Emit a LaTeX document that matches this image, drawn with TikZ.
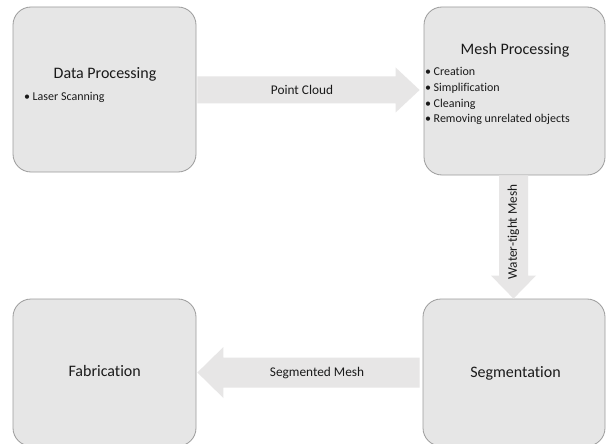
\documentclass[tikz,border=0pt]{standalone}
\usepackage{fontspec}
\setmainfont{Carlito}[Ligatures=NoCommon]
\usetikzlibrary{calc}

\definecolor{boxfill}{HTML}{E6E6E6}
\definecolor{boxline}{HTML}{9C9C9C}
\definecolor{arrowfill}{HTML}{E7E6E6}
\definecolor{ink}{HTML}{1A1A1A}

\tikzset{
  stagebox/.style={rectangle, rounded corners=18pt, draw=boxline, line width=0.8pt,
    fill=boxfill, inner sep=0pt},
  title/.style={inner sep=0pt, text=ink, font=\fontsize{16}{19}\selectfont, anchor=base},
  item/.style={inner sep=0pt, text=ink, font=\fontsize{12}{15}\selectfont, anchor=base west},
  flowlabel/.style={inner sep=0pt, text=ink, font=\fontsize{13.3}{16}\selectfont},
}

% block arrow: #1 tail, #2 tip, #3 shaft half width, #4 head half width, #5 head length
\newcommand\blockarrow[5]{%
  \coordinate (ba-h) at ($(#2)!#5!(#1)$);
  \fill[arrowfill]
    ($(#1)!#3!90:(#2)$) -- ($(ba-h)!#3!-90:(#1)$) -- ($(ba-h)!#4!-90:(#1)$)
    -- (#2)
    -- ($(ba-h)!#4!90:(#1)$) -- ($(ba-h)!#3!90:(#1)$) -- ($(#1)!#3!-90:(#2)$) -- cycle;
}

\newcommand\bulletitem[1]{\makebox[8.5pt][l]{\textbullet}#1}

\begin{document}
\begin{tikzpicture}[x=1pt,y=-1pt]
  \fill[white] (0,0) rectangle (606,444);
  \useasboundingbox (0,0) rectangle (606,444);

  % the four stages
  \node[stagebox, minimum width=183pt, minimum height=165pt] (dp) at (104.5,89.5) {};
  \node[stagebox, minimum width=181pt, minimum height=168pt] (mp) at (514.5,91) {};
  \node[stagebox, minimum width=182pt, minimum height=147pt] (sg) at (514,372.5) {};
  \node[stagebox, minimum width=183pt, minimum height=147pt] (fb) at (104.5,372.5) {};

  % titles
  \node[title] (dp-t) at (105,79) {Data Processing};
  \node[title] (mp-t) at (515,55) {Mesh Processing};
  \node[title] (sg-t) at (515.5,377) {Segmentation};
  \node[title] (fb-t) at (104.7,376.7) {Fabrication};

  % bullet lists
  \node[item] (dp-1) at (24,100.5) {\bulletitem{Laser Scanning}};
  \node[item] (mp-1) at (425,76) {\bulletitem{Creation}};
  \node[item] (mp-2) at (425,91.6) {\bulletitem{Simplification}};
  \node[item] (mp-3) at (425,107.2) {\bulletitem{Cleaning}};
  \node[item] (mp-4) at (425,122.8) {\bulletitem{Removing unrelated objects}};

  % flow arrows between stages
  \coordinate (pc-s) at ($(dp.east)+(1,0.5)$);
  \coordinate (pc-e) at ($(mp.west |- pc-s)+(-4,0)$);
  \blockarrow{pc-s}{pc-e}{13.5pt}{22.5pt}{24pt}

  \coordinate (wt-s) at ($(mp.south)+(-1,0)$);
  \coordinate (wt-e) at (wt-s |- sg.north);
  \blockarrow{wt-s}{wt-e}{14.5pt}{22.5pt}{23pt}

  \coordinate (sm-s) at ($(sg.west)+(-3,0)$);
  \coordinate (sm-e) at ($(fb.east |- sm-s)+(1,0)$);
  \blockarrow{sm-s}{sm-e}{15pt}{25.5pt}{26pt}

  % arrow labels
  \node[flowlabel, anchor=base] (pc-l) at (302,94.3) {Point Cloud};
  \node[flowlabel, rotate=90] (wt-l) at (513.5,232) {Water-tight Mesh};
  \node[flowlabel, anchor=base] (sm-l) at (317,376.7) {Segmented Mesh};
\end{tikzpicture}
\end{document}
